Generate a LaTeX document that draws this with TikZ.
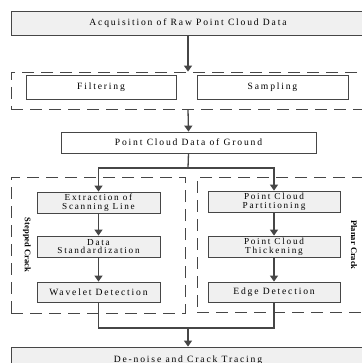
\documentclass[tikz,border=0pt]{standalone}
\usepackage{fontspec}
\setmainfont{Liberation Serif}
\newfontfamily\spacedfont[LetterSpace=19]{Liberation Serif}
\usetikzlibrary{arrows.meta}
\definecolor{boxgray}{RGB}{240,240,240}
\definecolor{linegray}{RGB}{70,70,70}

\tikzset{
    graybox/.style={draw=linegray, fill=boxgray, line width=0.8pt, align=center,
        inner sep=0pt, font=\spacedfont\fontsize{9.6}{8.8}\selectfont},
    whitebox/.style={graybox, fill=white},
    twoline/.style={graybox, font=\spacedfont\fontsize{9.2}{8.6}\selectfont},
    flow/.style={-{Triangle[length=6pt, width=8pt]}, draw=linegray, line width=1.3pt},
    link/.style={draw=linegray, line width=1.3pt},
    region/.style={draw=linegray, line width=0.8pt, dash pattern=on 12pt off 7pt},
    sidelabel/.style={rotate=-90, font=\bfseries\fontsize{8.5}{9}\selectfont}
}

\begin{document}
\begin{tikzpicture}[x=1pt, y=-1pt]

    \useasboundingbox (0,0) rectangle (361,363);

    % === Acquisition and preprocessing ===
    \node[graybox, minimum width=354pt, minimum height=24pt] (acq) at (188,23) {Acquisition of Raw Point Cloud Data};

    \node[region, minimum width=354pt, minimum height=37pt] (pre) at (188,90.5) {};
    \node[whitebox, minimum width=150pt, minimum height=24pt] (filter) at (101,87) {Filtering};
    \node[whitebox, minimum width=151pt, minimum height=24pt] (sample) at (272.5,87) {Sampling};

    \node[whitebox, minimum width=255pt, minimum height=21pt] (ground) at (188.5,142.5) {Point Cloud Data of Ground};

    \draw[flow] (acq.south) -- (pre.north);
    \draw[flow] (pre.south) -- (ground.north);

    % === Two crack branches ===
    \node[region, minimum width=174pt, minimum height=136pt] (stepped) at (98,245) {};
    \node[region, minimum width=168pt, minimum height=135pt] (planar) at (281,244.5) {};
    \node[sidelabel] (steplabel) at (27,245) {Stepped Crack};
    \node[sidelabel] (planelabel) at (354,245) {Planar Crack};

    % Stepped crack column
    \node[twoline, minimum width=123pt, minimum height=21pt] (extract) at (98.5,202.5) {Extraction of\\Scanning Line};
    \node[twoline, minimum width=123pt, minimum height=21pt] (standard) at (98.5,246.5) {Data\\Standardization};
    \node[graybox, minimum width=123pt, minimum height=20pt] (wavelet) at (98.5,292) {Wavelet Detection};

    % Planar crack column
    \node[twoline, minimum width=132pt, minimum height=21pt] (partition) at (274,201.5) {Point Cloud\\Partitioning};
    \node[twoline, minimum width=132pt, minimum height=21pt] (thicken) at (274,246.5) {Point Cloud\\Thickening};
    \node[graybox, minimum width=132pt, minimum height=20pt] (edge) at (274,292) {Edge Detection};

    \coordinate (split) at (188,168);
    \draw[link] (ground.south) -- (split);
    \draw[flow] (split) -| (extract.north);
    \draw[flow] (split) -| (partition.north);

    \draw[flow] (extract) -- (standard);
    \draw[flow] (standard) -- (wavelet);
    \draw[flow] (partition) -- (thicken);
    \draw[flow] (thicken) -- (edge);

    % === Merge ===
    \node[graybox, minimum width=354pt, minimum height=26pt] (denoise) at (188,360) {De-noise and Crack Tracing};

    \coordinate (merge) at (188,328);
    \draw[link] (wavelet.south) |- (merge) -| (edge.south);
    \draw[flow] (merge) -- (denoise.north);

\end{tikzpicture}
\end{document}
